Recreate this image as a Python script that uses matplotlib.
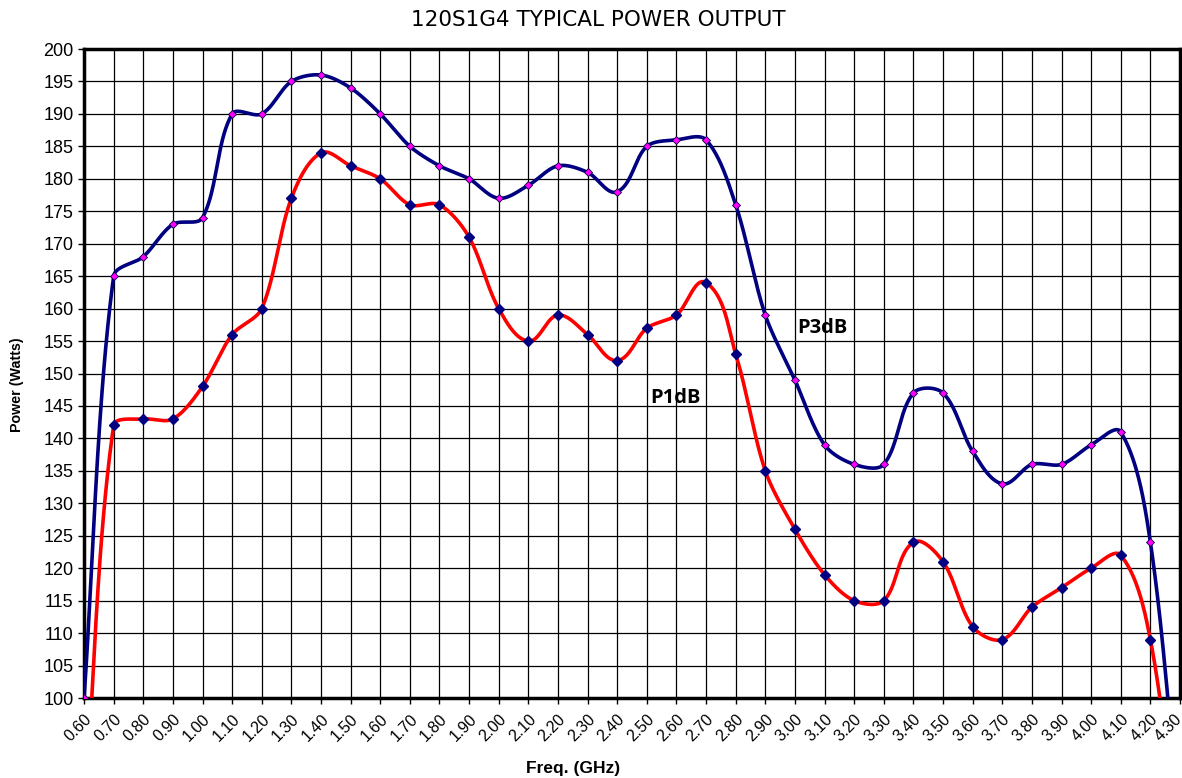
import numpy as np
import matplotlib
matplotlib.use("Agg")
import matplotlib.pyplot as plt
import matplotlib.transforms as mtransforms

## Frequencies (GHz) and measured power (Watts)
freq = [0.60, 0.70, 0.80, 0.90, 1.00, 1.10, 1.20, 1.30, 1.40, 1.50, 1.60, 1.70,
        1.80, 1.90, 2.00, 2.10, 2.20, 2.30, 2.40, 2.50, 2.60, 2.70, 2.80, 2.90,
        3.00, 3.10, 3.20, 3.30, 3.40, 3.50, 3.60, 3.70, 3.80, 3.90, 4.00, 4.10,
        4.20, 4.30]
p3db = [100, 165, 168, 173, 174, 190, 190, 195, 196, 194, 190, 185,
        182, 180, 177, 179, 182, 181, 178, 185, 186, 186, 176, 159,
        149, 139, 136, 136, 147, 147, 138, 133, 136, 136, 139, 141,
        124, 80]
p1db = [80, 142, 143, 143, 148, 156, 160, 177, 184, 182, 180, 176,
        176, 171, 160, 155, 159, 156, 152, 157, 159, 164, 153, 135,
        126, 119, 115, 115, 124, 121, 111, 109, 114, 117, 120, 122,
        109, 75]

xticks = np.round(np.arange(0.6, 4.301, 0.1), 2)
yticks = np.arange(100, 201, 5)

## pixels per unit on screen, so the curve bends like Excel's smoothed line
PX_X = 296.0
PX_Y = 6.49


def smooth(x, y, n=40, s=0.3):
    """ Bezier curve through the points, handle length follows the segment length. """
    p = np.column_stack([np.asarray(x, float) * PX_X, np.asarray(y, float) * PX_Y])
    out = []
    t = np.linspace(0, 1, n)[:, None]
    for i in range(len(p) - 1):
        p0 = p[i - 1] if i > 0 else p[i]
        p1, p2 = p[i], p[i + 1]
        p3 = p[i + 2] if i + 2 < len(p) else p[i + 1]
        L = np.hypot(*(p2 - p1))
        d1 = (p2 - p0) / np.hypot(*(p2 - p0))
        d2 = (p3 - p1) / np.hypot(*(p3 - p1))
        c1 = p1 + d1 * L * s
        c2 = p2 - d2 * L * s
        out.append((1 - t) ** 3 * p1 + 3 * (1 - t) ** 2 * t * c1
                   + 3 * (1 - t) * t ** 2 * c2 + t ** 3 * p2)
    out = np.vstack(out)
    return out[:, 0] / PX_X, out[:, 1] / PX_Y


fig = plt.figure(figsize=(11.82, 7.78), dpi=100)
ax = fig.add_axes([0.0711, 0.1028, 0.9272, 0.8342])

ax.set_xlim(0.6, 4.3)
ax.set_ylim(100, 200)
ax.set_xticks(xticks)
ax.set_xticklabels([f"{v:.2f}" for v in xticks], rotation=45, ha="right", va="top",
                   rotation_mode="anchor", fontsize=11.5, family="Liberation Sans")
ax.set_yticks(yticks)
ax.set_yticklabels([str(v) for v in yticks], fontsize=13, family="Liberation Sans")
ax.tick_params(direction="out", length=4, width=1, color="black")
ax.tick_params(axis="x", pad=6)
ax.grid(True, color="black", linewidth=0.9)
ax.set_axisbelow(True)
for s in ax.spines.values():
    s.set_linewidth(2.5)

## keep the last tick label inside the picture
last = ax.get_xticklabels()[-1]
last.set_transform(last.get_transform() +
                   mtransforms.ScaledTranslation(-4 / 72, 0, fig.dpi_scale_trans))

sx, sy = smooth(freq, p3db)
ax.plot(sx, sy, color="#000080", linewidth=2.6, zorder=3)
ax.plot(freq, p3db, linestyle="none", marker="D", markersize=4.2,
        markerfacecolor="#ff00ff", markeredgecolor="#000040",
        markeredgewidth=0.6, zorder=4)

sx, sy = smooth(freq, p1db)
ax.plot(sx, sy, color="#ff0000", linewidth=2.6, zorder=3)
ax.plot(freq, p1db, linestyle="none", marker="D", markersize=5,
        markerfacecolor="#000080", markeredgecolor="#000080", zorder=4)

ax.text(3.093, 157, "P3dB", fontsize=14.5, fontweight="bold",
        family="Open Sans", ha="center", va="center")
ax.text(2.597, 146.2, "P1dB", fontsize=14.5, fontweight="bold",
        family="Open Sans", ha="center", va="center")

fig.text(0.506, 0.974, "120S1G4 TYPICAL POWER OUTPUT", ha="center", va="center",
         fontsize=15.5)
fig.text(0.0145, 0.505, "Power (Watts)", rotation=90, ha="center", va="center",
         fontsize=10.3, fontweight="bold", family="Liberation Sans")
fig.text(0.485, 0.012, "Freq. (GHz)", ha="center", va="center",
         fontsize=12.5, fontweight="bold", family="Liberation Sans")

fig.savefig("out.png", dpi=100)
